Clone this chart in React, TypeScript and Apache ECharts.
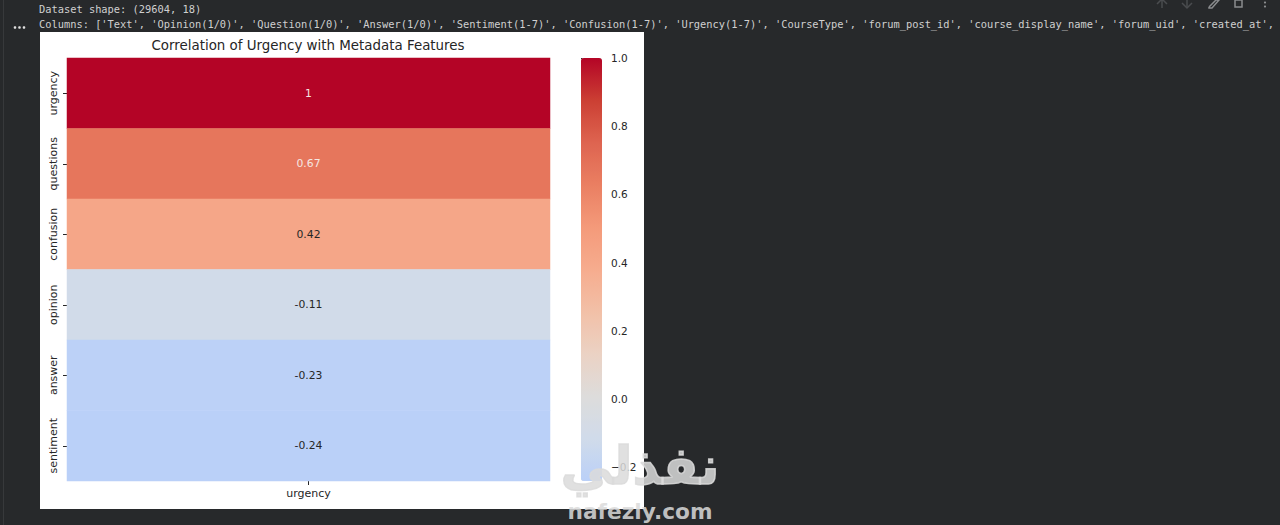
import React, { useEffect, useRef } from "react";
import * as echarts from "echarts";

const rowNames = ["urgency", "questions", "confusion", "opinion", "answer", "sentiment"];
const columnNames = ["urgency"];
const correlations = [1, 0.67, 0.42, -0.11, -0.23, -0.24];
const barTicks = [-0.2, 0, 0.2, 0.4, 0.6, 0.8, 1];
const scaleMin = -0.24;
const scaleMax = 1;
const coolwarmStops = ["#bad0f8", "#d0dbea", "#dddcdb", "#ebd2c4", "#f2c0a7", "#f6ac8e", "#f49a7a", "#ea7f62", "#de6450", "#cb3f33", "#b40426"];
const titleText = "Correlation of Urgency with Metadata Features";
const outputLine1 = "Dataset shape: (29604, 18)";
const outputLine2 = "Columns: ['Text', 'Opinion(1/0)', 'Question(1/0)', 'Answer(1/0)', 'Sentiment(1-7)', 'Confusion(1-7)', 'Urgency(1-7)', 'CourseType', 'forum_post_id', 'course_display_name', 'forum_uid', 'created_at',";
const watermarkArabic = "نفذلي";
const watermarkLatin = "nafezly.com";

const FONT = "'DejaVu Sans', sans-serif";
const MONO = "'DejaVu Sans Mono', monospace";
const INK = "#262626";

export default function App() {
  const ref = useRef<HTMLDivElement>(null);
  useEffect(() => {
    document.documentElement.style.overflow = "hidden";
    const chart = echarts.init(ref.current!, undefined, { renderer: "svg" });
    const toolbar = "#8a8c8e";
    const dim = "#4a4c4f";
    const mark = "rgba(219,219,219,0.85)";
    chart.setOption({
      animation: false,
      backgroundColor: "#27292b",
      textStyle: { fontFamily: FONT },
      title: {
        text: titleText, left: 308, top: 39, textAlign: "center", padding: 0,
        textStyle: { fontFamily: FONT, fontSize: 13.4, fontWeight: "normal", color: INK },
      },
      grid: [
        { left: 67, top: 58, width: 483, height: 423 },
        { left: 581, top: 58, width: 21, height: 423 },
      ],
      xAxis: [
        {
          type: "category", gridIndex: 0, data: columnNames,
          axisLine: { show: false }, splitArea: { show: false },
          axisTick: { show: true, alignWithLabel: true, length: 4, lineStyle: { color: INK } },
          axisLabel: { color: INK, fontSize: 11, fontFamily: FONT, margin: 7 },
        },
        { type: "value", gridIndex: 1, show: false, min: 0, max: 1 },
      ],
      yAxis: [
        {
          type: "category", gridIndex: 0, data: rowNames, inverse: true,
          axisLine: { show: false }, splitArea: { show: false },
          axisTick: { show: true, alignWithLabel: true, interval: 0, length: 4, lineStyle: { color: INK } },
          axisLabel: { color: INK, fontSize: 11, fontFamily: FONT, rotate: 90, interval: 0, margin: 14, verticalAlign: "middle", align: "center" },
        },
        {
          type: "value", gridIndex: 1, position: "right", min: scaleMin, max: scaleMax,
          axisLine: { show: false }, splitLine: { show: false },
          axisTick: { show: true, length: 4, customValues: barTicks, lineStyle: { color: INK } },
          axisLabel: {
            show: true, color: INK, fontSize: 10.5, fontFamily: FONT, margin: 9,
            customValues: barTicks, formatter: (v: number) => v.toFixed(1).replace("-", "\u2212"),
          },
        },
      ],
      visualMap: {
        type: "continuous", seriesIndex: 0, min: scaleMin, max: scaleMax,
        left: 581, top: 58, itemWidth: 21, itemHeight: 423, padding: 0,
        calculable: false, hoverLink: false, text: null, showLabel: false,
        inRange: { color: coolwarmStops },
      },
      series: [
        {
          type: "heatmap", xAxisIndex: 0, yAxisIndex: 0,
          data: correlations.map((v, i) => ({
            value: [0, i, v],
            label: { color: Math.abs(v) > 0.5 ? "#f5e6e2" : INK },
          })),
          label: {
            show: true, fontSize: 10.8, fontFamily: FONT,
            formatter: (p: any) => String(p.value[2]),
          },
          emphasis: { disabled: true },
        },
      ],
      graphic: [
        { type: "rect", z: -10, shape: { x: 40, y: 32, width: 604, height: 477 }, style: { fill: "#ffffff" } },
        { type: "rect", z: -9, shape: { x: 3, y: 0, width: 1, height: 525 }, style: { fill: "#37393b" } },
        { type: "text", z: 5, x: 39, y: 4, style: { text: outputLine1, fill: "#d0d0d0", font: `10.36px ${MONO}` } },
        { type: "text", z: 5, x: 39, y: 19, style: { text: outputLine2, fill: "#d0d0d0", font: `10.36px ${MONO}` } },
        { type: "circle", z: 5, shape: { cx: 15, cy: 27.5, r: 1.3 }, style: { fill: "#e0e0e0" } },
        { type: "circle", z: 5, shape: { cx: 19.5, cy: 27.5, r: 1.3 }, style: { fill: "#e0e0e0" } },
        { type: "circle", z: 5, shape: { cx: 24, cy: 27.5, r: 1.3 }, style: { fill: "#e0e0e0" } },
        { type: "polyline", z: 5, shape: { points: [[1162, 8], [1162, 0]] }, style: { stroke: dim, lineWidth: 1.5, fill: "none" } },
        { type: "polyline", z: 5, shape: { points: [[1157, 4], [1162, -1], [1167, 4]] }, style: { stroke: dim, lineWidth: 1.5, fill: "none" } },
        { type: "polyline", z: 5, shape: { points: [[1187, 0], [1187, 7]] }, style: { stroke: dim, lineWidth: 1.5, fill: "none" } },
        { type: "polyline", z: 5, shape: { points: [[1182, 3], [1187, 8], [1192, 3]] }, style: { stroke: dim, lineWidth: 1.5, fill: "none" } },
        { type: "polyline", z: 5, shape: { points: [[1209, 7], [1216, 0], [1219, 0], [1212, 8], [1209, 8], [1209, 7]] }, style: { stroke: toolbar, lineWidth: 1.5, fill: "none" } },
        { type: "rect", z: 5, shape: { x: 1235, y: 0, width: 7, height: 7 }, style: { stroke: toolbar, lineWidth: 1.5, fill: "none" } },
        { type: "circle", z: 5, shape: { cx: 1265, cy: 2.5, r: 1.1 }, style: { fill: toolbar } },
        { type: "circle", z: 5, shape: { cx: 1265, cy: 6.5, r: 1.1 }, style: { fill: toolbar } },
        { type: "text", z: 20, x: 640, y: 466, style: { text: watermarkArabic, fill: mark, stroke: mark, lineWidth: 1.5, font: `bold 52px ${FONT}`, align: "center", verticalAlign: "middle" } },
        { type: "text", z: 20, x: 640, y: 511, style: { text: watermarkLatin, fill: mark, font: `bold 21.7px ${FONT}`, align: "center", verticalAlign: "middle" } },
      ],
    });
    return () => chart.dispose();
  }, []);
  return <div ref={ref} style={{ position: "absolute", left: 0, top: 0, width: 1280, height: 525 }} />;
}
